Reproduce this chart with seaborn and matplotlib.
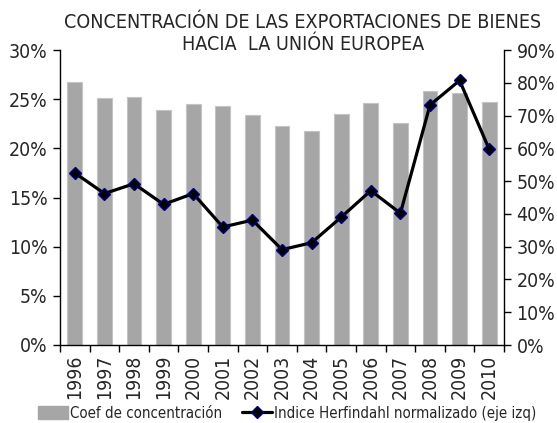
import matplotlib
matplotlib.use("Agg")
import matplotlib.pyplot as plt
import matplotlib.ticker as mticker
from matplotlib import font_manager as fm
from matplotlib.lines import Line2D
from matplotlib.patches import Patch
import numpy as np
import pandas as pd
import seaborn as sns

years = ["1996", "1997", "1998", "1999", "2000", "2001", "2002", "2003",
         "2004", "2005", "2006", "2007", "2008", "2009", "2010"]
# Coef de concentración (right axis, %)
coef = [80.2, 75.4, 75.7, 71.7, 73.5, 72.8, 70.2, 66.8,
        65.3, 70.6, 73.7, 67.6, 77.5, 76.8, 74.1]
# Indice Herfindahl normalizado (left axis, %)
herf = [17.5, 15.4, 16.4, 14.3, 15.4, 12.0, 12.7, 9.7,
        10.4, 13.0, 15.7, 13.4, 24.4, 26.9, 19.9]

title_lines = ["CONCENTRACIÓN DE LAS EXPORTACIONES DE BIENES", "HACIA  LA UNIÓN EUROPEA"]
label_bars = "Coef de concentración"
label_line = "Indice Herfindahl normalizado (eje izq)"

sns.set_theme(style="white")

# pick a narrow sans font if one is installed
fonts = fm.fontManager.ttflist
names = {f.name for f in fonts}
stretch = "normal"
if "Liberation Sans Narrow" in names:
    fam, scale = "Liberation Sans Narrow", 1.0
elif any(f.name == "Liberation Sans" and str(f.stretch) in ("condensed", "semi-condensed") for f in fonts):
    fam, scale, stretch = "Liberation Sans", 1.0, "condensed"
elif any(f.name == "DejaVu Sans" and str(f.stretch) in ("condensed", "semi-condensed") for f in fonts):
    fam, scale, stretch = "DejaVu Sans", 0.93, "condensed"
elif "Liberation Sans" in names:
    fam, scale = "Liberation Sans", 0.86
else:
    fam, scale = "DejaVu Sans", 0.8
plt.rcParams['font.family'] = [fam, 'DejaVu Sans']
plt.rcParams['font.stretch'] = stretch

df = pd.DataFrame({"year": years, "coef": coef, "herf": herf})

fig = plt.figure(figsize=(5.57, 4.23), dpi=100)
ax = fig.add_axes([60/557, 1-345/423, (504-60)/557, (345-50)/423])
ax2 = ax.twinx()

bar_color = "#A6A6A6"
sns.barplot(data=df, x="year", y="coef", ax=ax2, color=bar_color,
            width=0.5, edgecolor="#C4C4C4", linewidth=0.8, saturation=1)
sns.pointplot(data=df, x="year", y="herf", ax=ax, color="black",
              markers="D", linestyles="-", markersize=6.5,
              markerfacecolor="black", markeredgecolor="#000080",
              markeredgewidth=1.0, linewidth=2.3)

ax.set_zorder(ax2.get_zorder() + 1)
ax.patch.set_visible(False)

ax.set_ylim(0, 30)
ax2.set_ylim(0, 90)
ax.set_xlim(-0.5, len(years) - 0.5)
ax.yaxis.set_major_locator(mticker.MultipleLocator(5))
ax2.yaxis.set_major_locator(mticker.MultipleLocator(10))
ax.yaxis.set_major_formatter(mticker.FuncFormatter(lambda v, p: f"{v:.0f}%"))
ax2.yaxis.set_major_formatter(mticker.FuncFormatter(lambda v, p: f"{v:.0f}%"))

for a in (ax, ax2):
    a.set_xlabel("")
    a.set_ylabel("")
    for s in a.spines.values():
        s.set_visible(False)
ax.spines["left"].set_visible(True)
ax.spines["bottom"].set_visible(True)
ax2.spines["right"].set_visible(True)
for sname, a in (("left", ax), ("bottom", ax), ("right", ax2)):
    a.spines[sname].set_color("black")
    a.spines[sname].set_linewidth(1.0)

fs_tick = 15 * scale
ax.set_xticks(range(len(years)))
ax.set_xticklabels(years, rotation=90, fontsize=fs_tick)
ax.set_xticks(np.arange(-0.5, len(years), 1.0), minor=True)
ax.tick_params(axis="x", which="major", length=0, pad=7)
ax.tick_params(axis="x", which="minor", length=5, width=1, color="black", direction="out", bottom=True)
ax.tick_params(axis="y", which="major", length=5, width=1, color="black", direction="out", left=True, labelsize=fs_tick, pad=4)
ax2.tick_params(axis="y", which="major", length=5, width=1, color="black", direction="out", right=True, labelsize=fs_tick, pad=4)
ax2.tick_params(axis="x", which="both", length=0, labelbottom=False)

fs_title = 15.2 * scale
fig.text(303/557, 1-22/423, title_lines[0], ha="center", va="center", fontsize=fs_title)
fig.text(303/557, 1-45/423, title_lines[1], ha="center", va="center", fontsize=fs_title)

handles = [Patch(facecolor=bar_color, edgecolor=bar_color, label=label_bars),
           Line2D([0], [0], color="black", lw=2.3, marker="D", markersize=6,
                  markerfacecolor="black", markeredgecolor="#000080", label=label_line)]
fig.legend(handles=handles, loc="center", bbox_to_anchor=(287/557, 1-413/423), ncol=2,
           frameon=False, fontsize=11.6 * scale, handlelength=2.0, handleheight=0.9,
           handletextpad=0.15, columnspacing=1.3, borderaxespad=0, borderpad=0)

fig.savefig("out.png", dpi=100)
